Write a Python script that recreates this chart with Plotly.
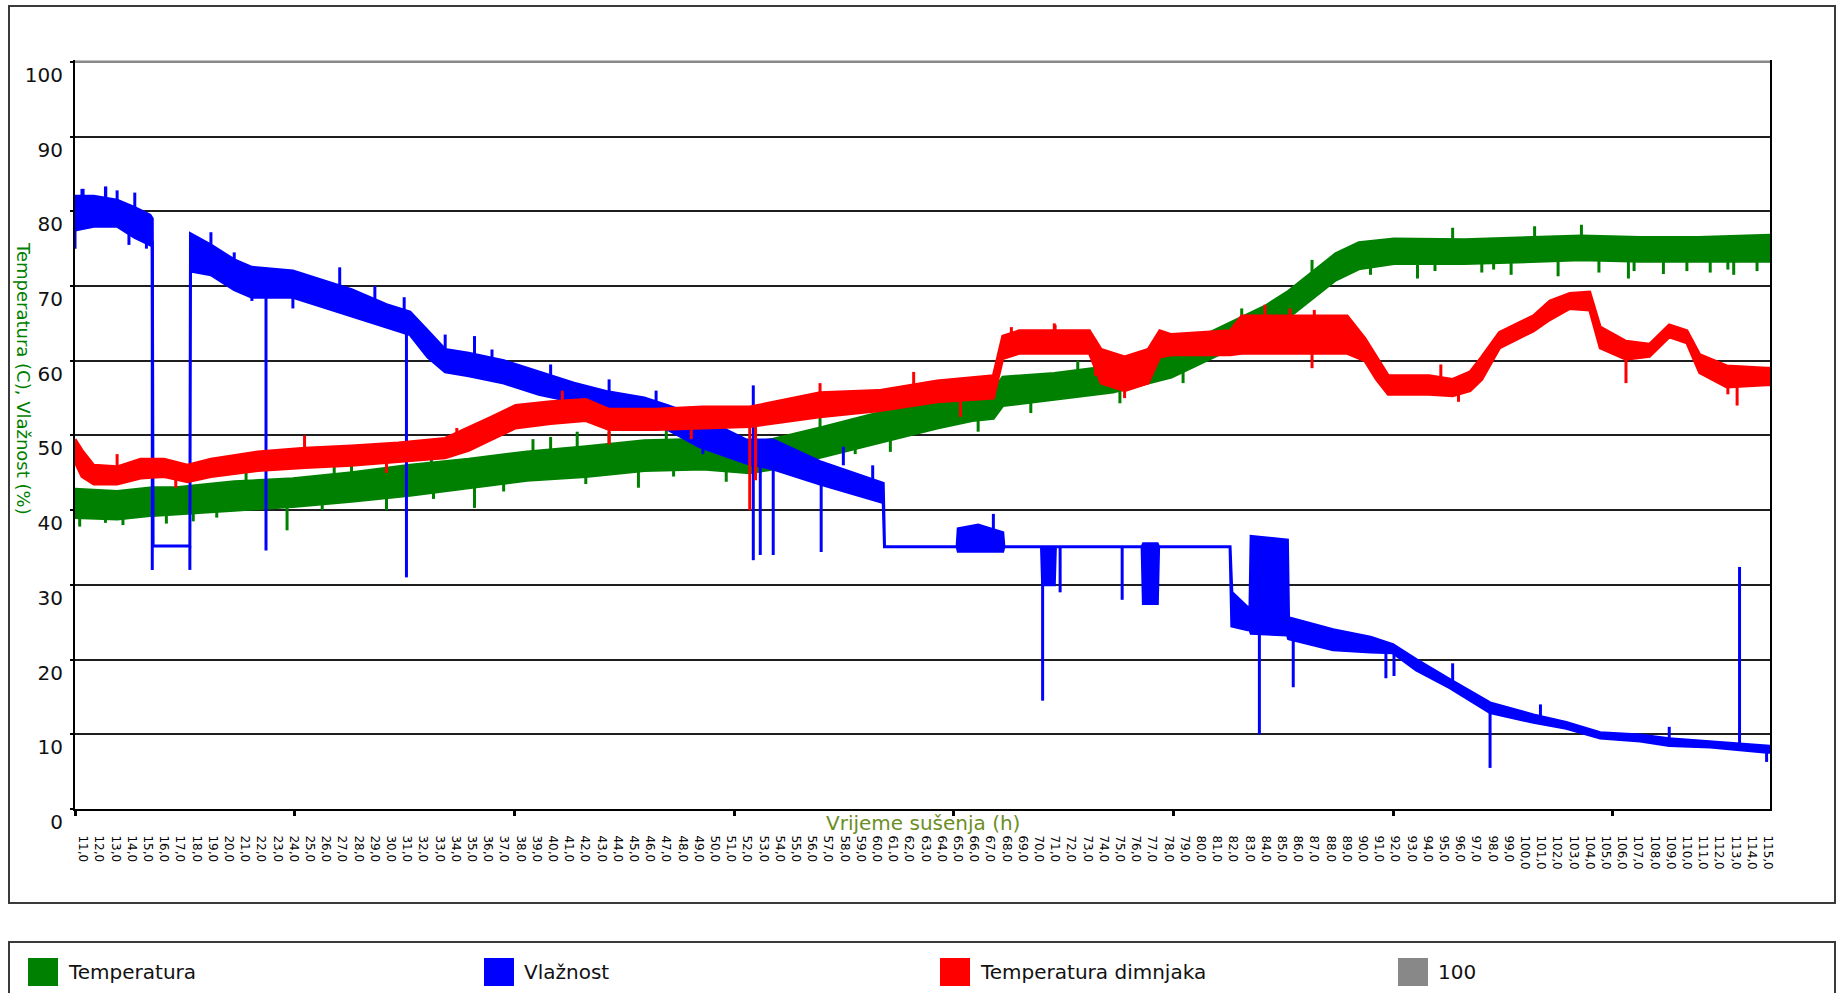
import plotly.graph_objects as go

# ---------------- data ----------------
start_hour = 10.5          # first instant shown on the time axis (h)
axis_end_hour = 115.13     # last instant shown on the time axis (h)
major_tick_step = 13.56    # spacing of the heavy tick marks (h)

x_tick_values = list(range(11, 116))
x_tick_labels = [
    "11,0", "12,0", "13,0", "14,0", "15,0", "16,0", "17,0", "18,0", "19,0", "20,0", "21,0", "22,0", "23,0", "24,0", "25,0",
    "26,0", "27,0", "28,0", "29,0", "30,0", "31,0", "32,0", "33,0", "34,0", "35,0", "36,0", "37,0", "38,0", "39,0", "40,0",
    "41,0", "42,0", "43,0", "44,0", "45,0", "46,0", "47,0", "48,0", "49,0", "50,0", "51,0", "52,0", "53,0", "54,0", "55,0",
    "56,0", "57,0", "58,0", "59,0", "60,0", "61,0", "62,0", "63,0", "64,0", "65,0", "66,0", "67,0", "68,0", "69,0", "70,0",
    "71,0", "72,0", "73,0", "74,0", "75,0", "76,0", "77,0", "78,0", "79,0", "80,0", "81,0", "82,0", "83,0", "84,0", "85,0",
    "86,0", "87,0", "88,0", "89,0", "90,0", "91,0", "92,0", "93,0", "94,0", "95,0", "96,0", "97,0", "98,0", "99,0", "100,0",
    "101,0", "102,0", "103,0", "104,0", "105,0", "106,0", "107,0", "108,0", "109,0", "110,0", "111,0", "112,0", "113,0", "114,0", "115,0",
]
y_tick_values = [0, 10, 20, 30, 40, 50, 60, 70, 80, 90, 100]

# Temperatura (hours from start, lower / upper edge of the noisy band)
green_t = [0, 2.60, 4.77, 6.22, 9.83, 13.45, 17.07, 20.68, 24.30, 27.91,
           31.53, 35.14, 38.76, 41.65, 43.10, 45.99, 49.60, 53.22, 55.39, 56.69,
           57.27, 60.45, 64.07, 67.68, 69.13, 70.57, 72.02, 73.47, 74.91, 76.36,
           77.81, 79.25, 81.42, 85.76, 89.37, 92.99, 96.61, 100.22, 104.63]
green_lo = [39, 38.8, 39.3, 39.5, 40, 40.5, 41.2, 42, 43, 44,
            44.5, 45.3, 45.5, 45, 45.5, 47, 49, 51, 52, 52.3,
            54, 54.8, 55.8, 57.8, 59.3, 60.8, 62.3, 63.8, 65.8, 68.3,
            70.8, 72.3, 73, 73, 73.2, 73.5, 73.3, 73.3, 73.3]
green_hi = [42.8, 42.5, 43, 43, 43.8, 44.2, 45, 46, 46.8, 47.8,
            48.5, 49.3, 49.5, 49, 49.5, 51, 53, 54.8, 56, 56,
            57.8, 58.3, 59.3, 61.3, 62.8, 64.3, 65.8, 67.3, 69.3, 71.8,
            74.3, 75.8, 76.3, 76.2, 76.4, 76.7, 76.5, 76.5, 76.8]
green_spike_t = [0.29, 1.88, 2.96, 5.64, 7.30, 8.75, 10.56, 13.09, 15.26, 16.0, 17.07, 19.23, 22.0, 22.13,
                 24.66, 26.46, 28.27, 29.36, 31.0, 31.53, 32.97, 34.78, 36.5, 36.95, 38.04, 39.48, 40.20,
                 43.82, 45.99, 48.16, 50.33, 53.22, 55.75, 59.0, 61.90, 64.5, 68.40, 72.02, 76.36, 79.97,
                 82.87, 83.95, 85.04, 86.84, 87.57, 88.65, 90.10, 91.55, 92.99, 94.07, 95.89, 96.24,
                 98.05, 99.50, 100.94, 102.03, 102.39, 103.83]
green_spike_from = [41, 40, 40, 41, 41, 41, 43, 41.5, 42, 44, 44, 44, 45, 43,
                    44, 45, 47, 47, 47, 46, 48, 46, 48, 46, 48, 48, 46,
                    47, 50, 49, 50, 54, 53, 55.5, 57.5, 56.5, 59, 65, 71, 73,
                    74, 74, 75, 74, 74, 74, 75, 74, 75, 74, 74, 74,
                    74, 74, 74, 74, 74, 74]
green_spike_to = [37.8, 38.3, 38, 38.2, 38.5, 39, 45.5, 37.3, 40, 46.5, 47, 40, 47.8, 41.5,
                  40.3, 42.5, 49.5, 49.8, 50.5, 43.5, 50.5, 43, 51, 44.5, 51.2, 51, 43.8,
                  45, 52.5, 47.5, 47.8, 56, 50.5, 53, 60, 54.3, 57, 67, 73.5, 71.5,
                  71, 72, 77.8, 71.8, 72.2, 71.5, 78, 71.3, 78.2, 71.8, 71, 72,
                  71.6, 72, 71.8, 72.2, 71.5, 72]

# Vlažnost
blue_t = [0, 1.16, 2.60, 3.69, 4.63, 4.77, 4.82, 7.09, 7.13, 8.39,
          9.83, 10.92, 13.45, 15.62, 17.07, 19.23, 20.68, 21.77, 22.85, 24.30,
          26.47, 28.63, 30.80, 32.97, 35.14, 36.59, 38.54, 41.43, 43.10, 45.99,
          49.89, 49.97, 54.45, 54.52, 55.75, 57.27, 57.34, 59.66, 59.73, 60.45,
          60.52, 65.87, 65.95, 66.81, 66.89, 71.30, 71.41, 72.38, 72.53, 72.60,
          74.84, 74.91, 77.66, 79.97, 81.35, 82.79, 84.89, 87.35, 90.03, 92.05,
          94.15, 96.61, 98.41, 100.94, 104.42, 104.63]
blue_lo = [77.5, 78, 78, 76.5, 75.5, 76, 35.2, 35.2, 72, 71.5,
           69.5, 68.5, 68.5, 67, 66, 64.5, 63.5, 60.5, 58.5, 58,
           57, 55.5, 54.5, 53, 52, 50.8, 48.5, 46.3, 45.5, 43.5,
           41, 35.1, 35.1, 34.5, 34.5, 34.5, 35.1, 35.1, 30, 30,
           35.1, 35.1, 27.5, 27.5, 35.1, 35.1, 24.5, 24, 24, 23.5,
           23.3, 22.8, 21.3, 21, 20.9, 18.6, 16.2, 12.9, 11.6, 10.8,
           9.5, 9.1, 8.5, 8.3, 7.6, 7.6]
blue_hi = [82, 82, 81.5, 80.5, 79.5, 79, 35.2, 35.2, 77, 75.5,
           73.5, 72.5, 72, 70.5, 69.5, 67.5, 66.5, 64, 61.5, 61,
           60, 58.5, 57, 55.8, 55, 54, 52.5, 49.4, 49.4, 46.5,
           43.6, 35.1, 35.1, 37.5, 38, 37, 35.1, 35.1, 35.1, 35.1,
           35.1, 35.1, 35.5, 35.5, 35.1, 35.1, 29, 27, 27, 36.5,
           36, 25.6, 24, 23, 22, 20, 17.3, 14.2, 12.6, 11.6,
           10.2, 9.9, 9.4, 9, 8.4, 8.4]
blue_spike_t = [0.0, 0.43, 0.5, 1.88, 1.9, 2.6, 3.33, 3.69, 4.41, 4.77, 7.09, 8.39, 9.83, 10.92, 11.79,
                13.45, 16.34, 18.51, 20.32, 20.46, 22.85, 24.66, 25.74, 29.36, 32.97, 35.87, 38.76,
                41.87, 42.30, 43.10, 46.06, 47.43, 49.24,
                56.69, 59.73, 60.81, 64.64, 73.11, 75.20, 80.92, 81.42, 85.04, 87.35,
                90.46, 98.41, 102.75, 104.42]
blue_spike_from = [78, 80, 80, 81, 81, 81, 78, 80, 77, 76, 35.2, 75, 73, 70, 70,
                   70, 69, 67, 66, 65, 61, 60, 59, 57, 55, 54, 49.5,
                   56.7, 48, 47, 45, 46, 43.5,
                   37, 35.1, 35.1, 35.1, 30, 24, 21.5, 21.5, 17, 13.5,
                   12, 9, 8, 8]
blue_spike_to = [75, 83, 83, 83.3, 83.3, 82.8, 75.5, 82.5, 75, 32, 32, 77.2, 74.5, 68, 34.6,
                 67, 72.5, 70, 68.5, 31, 63.5, 63.3, 61.5, 59.5, 57.5, 56, 47.5,
                 33.3, 34, 34, 34.4, 48.5, 46,
                 39.5, 14.5, 29, 28, 10, 16.3, 17.5, 17.8, 19.5, 5.5,
                 14, 11, 32.4, 6.3]

# Temperatura dimnjaka
red_t = [0, 0.43, 1.16, 2.60, 4.05, 5.50, 6.94, 8.39, 11.28, 14.17,
         17.07, 19.96, 22.85, 24.30, 25.74, 27.19, 29.36, 31.53, 32.97, 35.87,
         38.76, 41.65, 45.99, 49.60, 53.22, 56.69, 57.27, 58.28, 62.62, 63.34,
         64.79, 66.24, 66.96, 67.68, 71.30, 72.02, 78.53, 79.62, 80.34, 81.06,
         83.59, 85.04, 86.12, 86.84, 87.93, 90.03, 91.04, 92.27, 93.50, 94.15,
         95.74, 97.19, 98.41, 99.50, 100.29, 101.96, 104.42, 104.63]
red_lo = [46.5, 44.5, 43.5, 43.5, 44.3, 44.5, 43.8, 44.5, 45.3, 45.7,
          46, 46.5, 47, 48, 49.5, 51, 51.6, 52, 50.8, 50.8,
          51, 51.2, 52.5, 53.3, 54.5, 55, 60.3, 61, 61, 57,
          56, 57, 60.5, 60.8, 60.8, 61, 61, 60, 57.5, 55.5,
          55.5, 55.3, 56, 57.5, 61.7, 64, 65.5, 67, 66.8, 61.7,
          60.2, 60.6, 63.2, 62.4, 58.4, 56.5, 56.8, 56.8]
red_hi = [49.5, 48, 46, 45.8, 46.8, 46.8, 46, 46.8, 47.8, 48.3,
          48.6, 49, 49.6, 51, 52.5, 54, 54.5, 54.8, 53.5, 53.5,
          53.8, 53.8, 55.7, 56, 57.3, 58, 63.3, 64, 64, 61.5,
          60.5, 61.5, 64, 63.5, 64, 66, 66, 63, 60.5, 58,
          58, 57.5, 58.5, 60.5, 63.8, 66, 68, 69, 69.2, 64.5,
          62.6, 62.2, 64.8, 64, 60.8, 59.3, 59, 59]
red_spike_t = [2.6, 6.22, 14.17, 19.23, 23.57, 30.08, 32.97, 38.04, 41.65, 42.01, 45.99, 51.77, 54.66,
               57.8, 60.45, 60.5, 63.0, 64.79, 73.46, 75.0, 76.36, 76.5, 84.31, 85.40, 95.74, 102.03, 102.60]
red_spike_from = [45, 45, 47, 47, 49, 53, 51.5, 52, 52, 52, 54, 55, 55,
                  63, 62, 63, 58, 57, 64, 65, 62, 65, 57, 56, 60.5, 57, 57]
red_spike_to = [47.5, 43, 50, 45, 51, 56, 48.8, 49.5, 40, 44, 57, 58.5, 52.5,
                64.5, 65, 64.8, 62.8, 55, 67.5, 67, 59, 66.8, 59.5, 54.5, 57, 55.5, 54]

# 100 reference series
ref_t = [0, 104.63]
ref_v = [100, 100]

series_names = ["Temperatura", "Vlažnost", "Temperatura dimnjaka", "100"]
series_colors = ["#008000", "#0000FF", "#FF0000", "#888888"]

# ---------------- layout geometry (pixels) ----------------
W, H = 1837, 993
ML, MR, MT, MB = 75, 67, 60, 184
PW, PH = W - ML - MR, H - MT - MB


def pxx(px):
    return (px - ML) / PW


def pxy(py):
    return (H - MB - py) / PH


def band(t, lo, hi, color, name):
    xs = [start_hour + v for v in t]
    return go.Scatter(x=xs + xs[::-1], y=list(hi) + list(lo)[::-1], mode="lines",
                      fill="toself", fillcolor=color, line=dict(color=color, width=3),
                      name=name, hoverinfo="skip", showlegend=False)


def spikes(t, y0, y1, color):
    xs, ys = [], []
    for a, b, c in zip(t, y0, y1):
        xs += [start_hour + a, start_hour + a, None]
        ys += [b, c, None]
    return go.Scatter(x=xs, y=ys, mode="lines", line=dict(color=color, width=3),
                      hoverinfo="skip", showlegend=False)


fig = go.Figure()
fig.add_trace(band(green_t, green_lo, green_hi, series_colors[0], series_names[0]))
fig.add_trace(spikes(green_spike_t, green_spike_from, green_spike_to, series_colors[0]))
fig.add_trace(band(blue_t, blue_lo, blue_hi, series_colors[1], series_names[1]))
fig.add_trace(spikes(blue_spike_t, blue_spike_from, blue_spike_to, series_colors[1]))
fig.add_trace(band(red_t, red_lo, red_hi, series_colors[2], series_names[2]))
fig.add_trace(spikes(red_spike_t, red_spike_from, red_spike_to, series_colors[2]))
fig.add_trace(go.Scatter(x=[start_hour + v for v in ref_t], y=ref_v, mode="lines",
                         line=dict(color=series_colors[3], width=2.5), name=series_names[3],
                         hoverinfo="skip", showlegend=False))

fig.update_layout(
    width=W, height=H,
    margin=dict(l=ML, r=MR, t=MT, b=MB, pad=0),
    paper_bgcolor="white", plot_bgcolor="white",
    showlegend=False,
    font=dict(family="DejaVu Sans", size=20, color="#111111"),
    xaxis=dict(
        range=[start_hour, axis_end_hour],
        showgrid=False, zeroline=False,
        showline=True, linecolor="black", linewidth=2,
        tickmode="array", tickvals=x_tick_values, ticktext=x_tick_labels,
        tickangle=90, tickfont=dict(family="DejaVu Sans", size=12, color="black"),
        ticks="", ticklabelstandoff=22,
        minor=dict(tickmode="linear", tick0=start_hour, dtick=major_tick_step,
                   ticks="outside", ticklen=5, tickwidth=3, tickcolor="black", showgrid=False),
    ),
    yaxis=dict(
        range=[0, 100.25],
        tickmode="array", tickvals=y_tick_values,
        showgrid=True, gridcolor="#1e1e1e", gridwidth=1.5,
        zeroline=False,
        showline=True, linecolor="black", linewidth=2, mirror=True,
        ticks="outside", ticklen=3, tickcolor="black", tickwidth=2,
        tickfont=dict(family="DejaVu Sans", size=20, color="#111111"),
        ticklabelshift=13, ticklabelstandoff=3,
    ),
)

# axis titles
fig.add_annotation(text="Vrijeme sušenja (h)", xref="paper", yref="paper",
                   x=pxx((ML + W - MR) / 2), y=pxy(823), xanchor="center", yanchor="middle",
                   showarrow=False, font=dict(family="DejaVu Sans", size=20, color="#6b8e23"))
fig.add_annotation(text="Temperatura (C), Vlažnost (%)", xref="paper", yref="paper",
                   x=pxx(24), y=pxy(378), xanchor="center", yanchor="middle", textangle=90,
                   showarrow=False, font=dict(family="DejaVu Sans", size=18, color="#008000"))

# outer chart frame and legend frame
frame_color = "#3a3a3a"
fig.add_shape(type="rect", xref="paper", yref="paper", x0=pxx(9), x1=pxx(1835), y0=pxy(903), y1=pxy(6),
              line=dict(color=frame_color, width=2), fillcolor="rgba(0,0,0,0)", layer="below")
fig.add_shape(type="rect", xref="paper", yref="paper", x0=pxx(9), x1=pxx(1835), y0=pxy(1010), y1=pxy(942),
              line=dict(color=frame_color, width=2), fillcolor="rgba(0,0,0,0)", layer="below")

# legend entries
legend_sq_x = [28, 484, 940, 1398]
for name, color, lx in zip(series_names, series_colors, legend_sq_x):
    fig.add_shape(type="rect", xref="paper", yref="paper", x0=pxx(lx), x1=pxx(lx + 30),
                  y0=pxy(986), y1=pxy(958), line=dict(width=0), fillcolor=color)
    fig.add_annotation(text=name, xref="paper", yref="paper", x=pxx(lx + 38), y=pxy(972),
                       xanchor="left", yanchor="middle", showarrow=False,
                       font=dict(family="DejaVu Sans", size=20, color="#111111"))

fig.write_html("out.html", config={"displayModeBar": False},
               post_script="document.body.style.margin='0px';document.body.style.overflow='hidden';")
